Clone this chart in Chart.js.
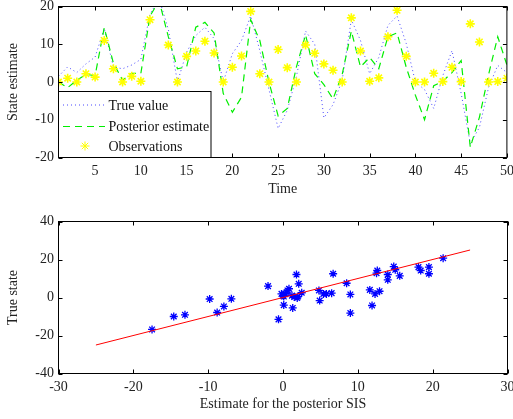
<!DOCTYPE html>
<html>
<head>
<meta charset="utf-8">
<script src="https://cdn.jsdelivr.net/npm/chart.js@4.4.1/dist/chart.umd.min.js"></script>
<style>
  html, body { margin: 0; padding: 0; background: #fff; }
  body { width: 513px; height: 419px; position: relative; overflow: hidden; }
  canvas { position: absolute; left: 0; }
</style>
</head>
<body>
<canvas id="topChart" width="513" height="205" style="top:0"></canvas>
<canvas id="bottomChart" width="513" height="209" style="top:210px"></canvas>
<script>
// top panel: state over time
const timeSteps = Array.from({ length: 50 }, (_, i) => i + 1);
const trueValue = [1.5, 4, 2.5, 4.8, 6.6, 14.2, 4, 3.5, 4.5, 6,
  18, 22, 14, 0, 7.9, 12.3, 14.5, 11.5, 0, 7.5,
  11, 17.5, 8.3, -2, -12.3, -7.5, 1.5, 13.5, 10, -9.5,
  -6, 0.5, 16.5, 11, 2.2, 6.5, 15, 17.5, 10.2, 0,
  -2, -7, 1.7, 8.3, -3, -16.3, -12, -1.4, 4.4, 2.5];
const posteriorEstimate = [0, -1.5, 0.5, 2, 1.7, 14.4, 5, 0.5, 2.3, 2.3,
  17.5, 21.5, 12, 3.5, 4, 14.5, 15.8, 13, -3, -8,
  -4, 16.5, 11, 0, -9, -7, 4, 12.5, 2.2, -0.7,
  -4.5, 2, 13.5, 4, 6.5, 3.5, 12, 13, 3.9, -3.5,
  -10, -1, 0.2, 2.5, 5.7, -17.3, -9.3, 2, 12, 4.5];
const observations = [0, 1, 0, 2.2, 1.3, 11, 3.5, 0, 1.5, 0.2,
  16.5, 24, 9.8, 0, 6.8, 8.2, 10.8, 7.7, 0, 3.9,
  6.9, 18.7, 2.2, 0, 8.6, 3.8, 0, 9.8, 7.6, 4.8,
  3.1, 0, 17, 8.2, 0.2, 1.1, 12, 19, 6.8, 0,
  0, 2.3, 0.1, 3.9, 0.1, 15.4, 10.6, 0, 0.1, 1];
const topXTicks = [5, 10, 15, 20, 25, 30, 35, 40, 45, 50];
const topYTicks = [-20, -10, 0, 10, 20];

// bottom panel: estimate vs true state
const estimateSIS = [-17.5, -14.6, -13.1, -9.8, -8.8, -7.9, -6.9, -2.0, -0.6, -0.2,
  0.0, 0.1, 0.1, 0.5, 0.6, 0.8, 1.2, 1.3, 1.8, 2.1,
  1.9, 2.5, 1.5, 4.8, 4.9, 5.4, 5.8, 6.5, 6.7, 8.5,
  9.0, 9.0, 11.6, 11.9, 12.3, 12.9, 12.6, 12.5, 14.0, 14.0,
  14.8, 15.0, 15.6, 18.1, 18.4, 19.5, 19.5, 21.4, 0.3, 2.0];
const trueState = [-16.8, -10.0, -9.1, -0.8, -7.9, -4.7, -0.7, 6.0, -11.5, 1.9,
  1.0, -4.0, 0.5, 2.8, 3.7, 4.6, 1.0, -5.5, 12.1, 7.2,
  -0.2, 2.5, 0.3, 3.7, -1.6, 1.9, 1.9, 2.3, 12.5, 7.5,
  1.6, -8.2, 4.0, -4.2, 1.9, 3.3, 14.2, 12.8, 12.1, 9.3,
  16.3, 14.6, 11.4, 16.0, 14.2, 16.0, 12.5, 20.7, 2.0, 0.5];
const refLineX = [-25, 25];
const refLineY = [-25, 25];
const bottomXTicks = [-30, -20, -10, 0, 10, 20, 30];
const bottomYTicks = [-40, -20, 0, 20, 40];

const serif = '"Liberation Serif", "Times New Roman", serif';
Chart.defaults.font.family = serif;
Chart.defaults.font.size = 14;
Chart.defaults.color = '#222';
Chart.defaults.animation = false;

// fixed axis box sizes so both panels line up like the original figure
function fixBox(w, h) {
  return (s) => {
    if (w != null) s.width = w;
    if (h != null) s.height = h;
    s.paddingLeft = s.paddingRight = s.paddingTop = s.paddingBottom = 0;
  };
}
function setTicks(values) {
  return (s) => { s.ticks = values.map((v) => ({ value: v })); };
}

function drawLegend(chart) {
  const { ctx, chartArea: a } = chart;
  const ds = chart.data.datasets;
  const left = a.left, top = a.bottom - 66, w = 152.5, h = 66;
  ctx.fillStyle = '#fff';
  ctx.fillRect(left, top, w, h);
  ctx.setLineDash([]);
  ctx.strokeStyle = '#000';
  ctx.lineWidth = 1;
  ctx.strokeRect(left, top, w, h);

  const rows = [top + 13.5, top + 35, top + 54.5];
  const items = [ds[2], ds[1], ds[0]];
  ctx.font = '14px ' + serif;
  ctx.textBaseline = 'middle';
  ctx.textAlign = 'left';
  items.forEach((d, i) => {
    const y = rows[i];
    if (d.showLine !== false) {
      ctx.save();
      ctx.strokeStyle = d.borderColor;
      ctx.lineWidth = d.borderWidth;
      ctx.setLineDash(d.borderDash || []);
      ctx.beginPath();
      ctx.moveTo(left + 4.5, y);
      ctx.lineTo(left + 46.5, y);
      ctx.stroke();
      ctx.restore();
    } else {
      ctx.save();
      ctx.strokeStyle = d.borderColor;
      Chart.helpers.drawPoint(ctx, {
        pointStyle: 'star', radius: d.pointRadius, rotation: 0, borderWidth: d.borderWidth
      }, left + 26.5, y);
      ctx.restore();
    }
    ctx.fillStyle = '#111';
    ctx.fillText(d.label, left + 50, y + 1);
  });
}

const framePlugin = {
  id: 'frame',
  afterDraw(chart, args, opts) {
    const { ctx, chartArea: a, scales: { x, y } } = chart;
    ctx.save();
    ctx.setLineDash([]);
    ctx.strokeStyle = '#000';
    ctx.lineWidth = 1;
    ctx.beginPath();
    x.ticks.forEach((t) => {
      const px = Math.round(x.getPixelForValue(t.value)) + 0.5;
      ctx.moveTo(px, a.bottom); ctx.lineTo(px, a.bottom - 4);
      ctx.moveTo(px, a.top); ctx.lineTo(px, a.top + 4);
    });
    y.ticks.forEach((t) => {
      const py = Math.round(y.getPixelForValue(t.value)) + 0.5;
      ctx.moveTo(a.left, py); ctx.lineTo(a.left + 4, py);
      ctx.moveTo(a.right, py); ctx.lineTo(a.right - 4, py);
    });
    ctx.stroke();
    if (opts.legend) drawLegend(chart);
    ctx.strokeRect(a.left, a.top, a.right - a.left, a.bottom - a.top);
    ctx.restore();
  }
};

const noGrid = { display: false, drawTicks: false };

new Chart(document.getElementById('topChart').getContext('2d'), {
  type: 'line',
  data: {
    labels: timeSteps,
    datasets: [
      {
        label: 'Observations',
        data: observations,
        showLine: false,
        pointStyle: 'star',
        pointRadius: 4.5,
        borderColor: '#ffff00',
        borderWidth: 1.6
      },
      {
        label: 'Posterior estimate',
        data: posteriorEstimate,
        borderColor: '#00ee00',
        borderWidth: 1.2,
        borderDash: [7, 5],
        pointRadius: 0,
        tension: 0
      },
      {
        label: 'True value',
        data: trueValue,
        borderColor: 'rgba(40,40,255,0.85)',
        borderWidth: 1,
        borderDash: [1, 3],
        pointRadius: 0,
        tension: 0
      }
    ]
  },
  options: {
    responsive: false,
    layout: { padding: { left: 0, right: 5.5, top: 6.5, bottom: 0 } },
    plugins: {
      legend: { display: false },
      tooltip: { enabled: false },
      frame: { legend: true }
    },
    scales: {
      x: {
        type: 'linear', min: 1, max: 50,
        grid: noGrid, border: { display: false },
        afterBuildTicks: setTicks(topXTicks),
        ticks: { padding: 5, maxRotation: 0, autoSkip: false },
        title: { display: true, text: 'Time', padding: { top: 0, bottom: 7 } },
        afterFit: fixBox(null, 47.5)
      },
      y: {
        min: -20, max: 20,
        grid: noGrid, border: { display: false },
        afterBuildTicks: setTicks(topYTicks),
        ticks: { padding: 4.5 },
        title: { display: true, text: 'State estimate', padding: { top: 5, bottom: 0 } },
        afterFit: fixBox(58.5, null)
      }
    }
  },
  plugins: [framePlugin]
});

const scatterPoints = estimateSIS.map((v, i) => ({ x: v, y: trueState[i] }));
const refLine = refLineX.map((v, i) => ({ x: v, y: refLineY[i] }));

new Chart(document.getElementById('bottomChart').getContext('2d'), {
  type: 'scatter',
  data: {
    datasets: [
      {
        data: refLine,
        showLine: true,
        borderColor: '#ff0000',
        borderWidth: 1,
        pointRadius: 0
      },
      {
        data: scatterPoints,
        pointStyle: 'star',
        pointRadius: 4,
        borderColor: '#0000ff',
        borderWidth: 1.3
      }
    ]
  },
  options: {
    responsive: false,
    layout: { padding: { left: 0, right: 5.5, top: 11.5, bottom: 0 } },
    plugins: {
      legend: { display: false },
      tooltip: { enabled: false },
      frame: { legend: false }
    },
    scales: {
      x: {
        type: 'linear', min: -30, max: 30,
        grid: noGrid, border: { display: false },
        afterBuildTicks: setTicks(bottomXTicks),
        ticks: { padding: 5, maxRotation: 0, autoSkip: false },
        title: { display: true, text: 'Estimate for the posterior SIS', padding: { top: 0, bottom: 6.5 } },
        afterFit: fixBox(null, 45.5)
      },
      y: {
        min: -40, max: 40,
        grid: noGrid, border: { display: false },
        afterBuildTicks: setTicks(bottomYTicks),
        ticks: { padding: 4.5 },
        title: { display: true, text: 'True state', padding: { top: 5, bottom: 0 } },
        afterFit: fixBox(58.5, null)
      }
    }
  },
  plugins: [framePlugin]
});
</script>
</body>
</html>
